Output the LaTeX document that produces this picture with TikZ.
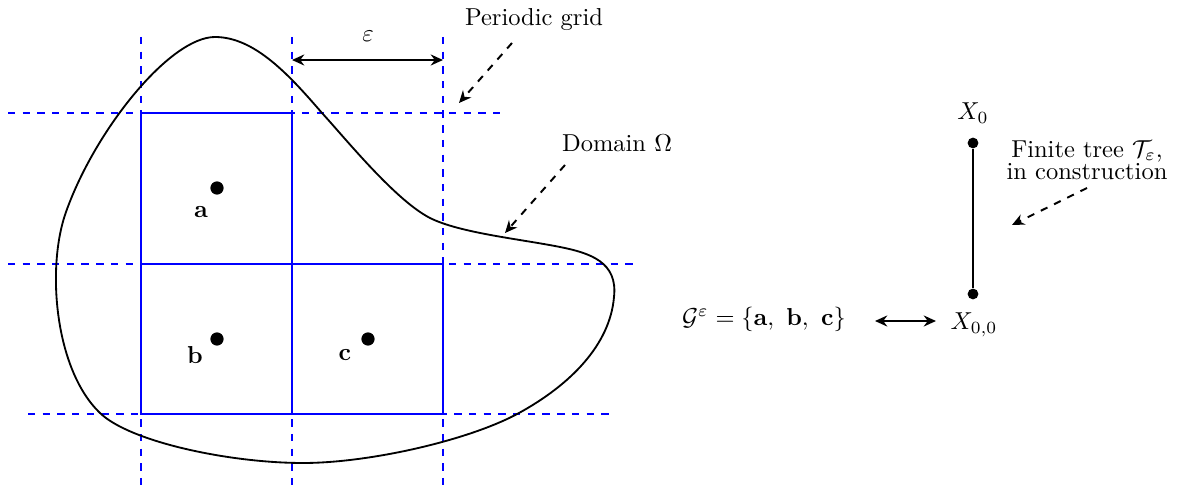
\documentclass[tikz,border=0pt]{standalone}
\usetikzlibrary{arrows.meta}
\begin{document}
\begin{tikzpicture}[x=0.4082pt,y=-0.4082pt,
  gridline/.style={blue,dashed,line width=0.55pt},
  cell/.style={blue,line width=1.05pt},
  outline/.style={black,line width=0.75pt},
  bigdot/.style={circle,fill=black,inner sep=0pt,minimum size=5.4pt},
  treedot/.style={circle,fill=black,inner sep=0pt,minimum size=4.4pt},
  pointer/.style={dashed,line width=0.8pt,-{Stealth[length=5pt,width=4.5pt]}},
  measure/.style={line width=0.8pt,{Stealth[length=5pt,width=4.5pt]}-{Stealth[length=5pt,width=4.5pt]}},
  lbl/.style={inner sep=1pt}]
\useasboundingbox (0,0) rectangle (1178,493);
% grid
\foreach \gx/\nm in {141/ga,292/gb,443/gc}{
  \coordinate (\nm t) at (\gx,37);
  \coordinate (\nm b) at (\gx,492);
  \draw[gridline] (\nm t) -- (\nm b);
}
\coordinate (h1l) at (8,113);   \coordinate (h1r) at (502,113);
\coordinate (h2l) at (8,264);   \coordinate (h2r) at (635,264);
\coordinate (h3l) at (28,414);  \coordinate (h3r) at (614,414);
\draw[gridline] (h1l) -- (h1r);
\draw[gridline] (h2l) -- (h2r);
\draw[gridline] (h3l) -- (h3r);
% cells
\draw[cell] (141,113) rectangle (292,264);
\draw[cell] (141,264) rectangle (292,414);
\draw[cell] (292,264) rectangle (443,414);
% domain
\draw[outline] (215,37)
  .. controls (170,37) and (95,130) .. (66,212)
  .. controls (46,268) and (55,370) .. (100,413)
  .. controls (130,442) and (230,463) .. (303,463)
  .. controls (370,463) and (470,440) .. (519,413)
  .. controls (570,385) and (610,345) .. (614,297)
  .. controls (618,262) and (590,253) .. (560,247)
  .. controls (520,239) and (460,233) .. (430,218)
  .. controls (395,200) and (345,138) .. (322,113)
  .. controls (290,76) and (255,37) .. cycle;
% points
\node[bigdot] (pa) at (217,188) {};
\node[bigdot] (pb) at (217,339) {};
\node[bigdot] (pc) at (368,339) {};
\node[lbl] (la) at (201,212) {$\mathbf{a}$};
\node[lbl] (lb) at (195,355) {$\mathbf{b}$};
\node[lbl] (lc) at (345,355) {$\mathbf{c}$};
% epsilon
\coordinate (el) at (292,60);
\coordinate (er) at (443,60);
\draw[measure] (el) -- (er);
\node[lbl] (eps) at (368,36) {$\varepsilon$};
% labels with pointers
\node[lbl] (pg) at (534,20) {Periodic grid};
\coordinate (pgs) at (512,43);
\coordinate (pge) at (459,103);
\draw[pointer] (pgs) -- (pge);
\node[lbl] (dom) at (617,143) {Domain $\Omega$};
\coordinate (doms) at (565,165);
\coordinate (dome) at (505,233);
\draw[pointer] (doms) -- (dome);
% tree
\node[treedot] (x0) at (973,143) {};
\node[treedot] (x00) at (973,294) {};
\draw[line width=1pt] (x0) -- (x00);
\node[lbl] (lx0) at (973,113) {$X_0$};
\node[lbl] (lx00) at (974,325) {$X_{0,0}$};
\node[lbl,align=center] (ft) at (1087,160) {Finite tree $\mathcal{T}_\varepsilon$,\\[-3pt] in construction};
\coordinate (fts) at (1087,188);
\coordinate (fte) at (1012,225);
\draw[pointer] (fts) -- (fte);
\node[lbl] (G) at (764,319) {$\mathcal{G}^\varepsilon=\{\mathbf{a},\ \mathbf{b},\ \mathbf{c}\}$};
\coordinate (gl) at (875,321);
\coordinate (gr) at (936,321);
\draw[measure] (gl) -- (gr);
\end{tikzpicture}
\end{document}
